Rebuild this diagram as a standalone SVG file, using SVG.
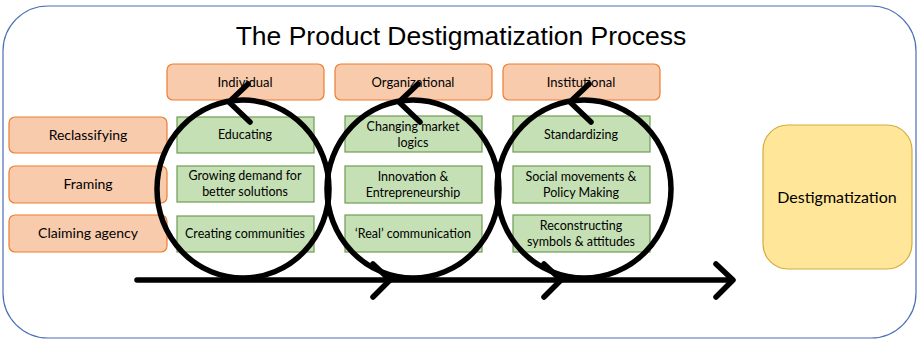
<svg xmlns="http://www.w3.org/2000/svg" width="918" height="341" viewBox="0 0 918 341">
<style>
.frame{fill:#fff;stroke:#4a6fb5;stroke-width:1.2}
.org{fill:#f8cbad;stroke:#ed7d31;stroke-width:1.2}
.grn{fill:#c5e0b4;stroke:#6f9c52;stroke-width:1.2}
.ylw{fill:#ffe699;stroke:#d1ad3c;stroke-width:1.2}
.t{font-family:Lato,"Noto Sans",sans-serif;fill:#000;text-anchor:middle}
.hd{font-size:13px}
.rl{font-size:14px}
.gt{font-size:12.5px}
.title{font-family:"Liberation Sans",Arial,sans-serif;font-size:26.5px;fill:#000;text-anchor:middle}
.ln{fill:none;stroke:#000;stroke-width:5.5;stroke-linecap:round;stroke-linejoin:round}
</style>
<rect class="frame" x="3" y="6" width="913" height="332" rx="45"/>
<text class="title" x="461" y="45">The Product Destigmatization Process</text>

<g id="hdr-individual"><rect class="org" x="167" y="64" width="157" height="36" rx="6"/><text class="t hd" x="245" y="87">Individual</text></g>
<g id="hdr-organizational"><rect class="org" x="335" y="64" width="157" height="36" rx="6"/><text class="t hd" x="413" y="87">Organizational</text></g>
<g id="hdr-institutional"><rect class="org" x="503" y="64" width="157" height="36" rx="6"/><text class="t hd" x="581" y="87">Institutional</text></g>

<g id="row-reclassifying"><rect class="org" x="9" y="117" width="158" height="36" rx="6"/><text class="t rl" x="88" y="140">Reclassifying</text></g>
<g id="row-framing"><rect class="org" x="9" y="166" width="158" height="37" rx="6"/><text class="t rl" x="88" y="189">Framing</text></g>
<g id="row-claiming"><rect class="org" x="9" y="215" width="158" height="37" rx="6"/><text class="t rl" x="88" y="238">Claiming agency</text></g>

<g id="c1-educating"><rect class="grn" x="177" y="117" width="137" height="36"/><text class="t gt" x="245" y="139">Educating</text></g>
<g id="c1-growing"><rect class="grn" x="177" y="166" width="137" height="36"/><text class="t gt" x="245" y="180">Growing demand for</text><text class="t gt" x="245" y="196">better solutions</text></g>
<g id="c1-creating"><rect class="grn" x="177" y="216" width="137" height="36"/><text class="t gt" x="245" y="238">Creating communities</text></g>

<g id="c2-changing"><rect class="grn" x="345" y="116" width="137" height="36"/><text class="t gt" x="413" y="131">Changing market</text><text class="t gt" x="413" y="147">logics</text></g>
<g id="c2-innovation"><rect class="grn" x="345" y="166" width="137" height="37"/><text class="t gt" x="413" y="181">Innovation &amp;</text><text class="t gt" x="413" y="197">Entrepreneurship</text></g>
<g id="c2-real"><rect class="grn" x="345" y="215" width="137" height="37"/><text class="t gt" x="413" y="238">‘Real’ communication</text></g>

<g id="c3-standardizing"><rect class="grn" x="513" y="116" width="137" height="36"/><text class="t gt" x="581" y="139">Standardizing</text></g>
<g id="c3-social"><rect class="grn" x="513" y="166" width="137" height="37"/><text class="t gt" x="581" y="181">Social movements &amp;</text><text class="t gt" x="581" y="197">Policy Making</text></g>
<g id="c3-reconstructing"><rect class="grn" x="513" y="215" width="137" height="37"/><text class="t gt" x="581" y="230">Reconstructing</text><text class="t gt" x="581" y="246">symbols &amp; attitudes</text></g>

<g id="destigmatization"><rect class="ylw" x="763" y="125" width="149" height="144" rx="25"/><text class="t" style="font-size:16px" x="837" y="203">Destigmatization</text></g>

<g id="connectors">
<ellipse class="ln" cx="243" cy="189" rx="86" ry="89"/>
<ellipse class="ln" cx="413" cy="189" rx="86" ry="89"/>
<ellipse class="ln" cx="584" cy="189" rx="87" ry="89"/>
<polyline class="ln" points="248,84 229,102 250,122"/>
<polyline class="ln" points="418,84 399,102 420,122"/>
<polyline class="ln" points="589,84 570,102 591,122"/>
<line class="ln" x1="137" y1="280" x2="731" y2="280"/>
<polyline class="ln" points="373,264 390,280 373,297"/>
<polyline class="ln" points="544,264 561,280 544,297"/>
<polyline class="ln" points="716,264 733,280 716,297"/>
</g>
</svg>
